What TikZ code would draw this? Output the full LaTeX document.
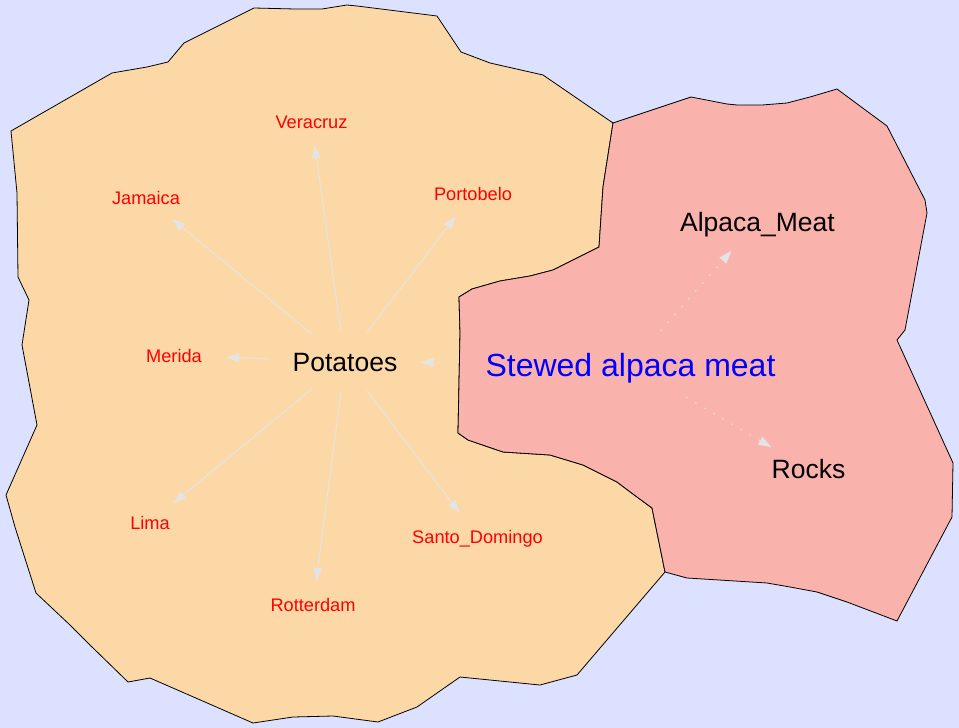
\documentclass[tikz,border=0pt]{standalone}
\usepackage{fontspec}
\setmainfont{Liberation Sans}
\usepackage{tikz}
\usetikzlibrary{shapes.geometric, arrows.meta}
\definecolor{seablue}{RGB}{219,225,254}
\definecolor{potatofill}{RGB}{253,216,167}
\definecolor{alpacafill}{RGB}{250,178,172}
\definecolor{edgegray}{RGB}{228,228,228}

\begin{document}
\begin{tikzpicture}[
  x=1pt, y=-1pt,
  region/.style={draw=black, line width=0.8pt, line join=miter},
  city/.style={ellipse, inner xsep=9pt, inner ysep=0pt, minimum height=47pt, text height=13pt, text depth=0pt, text=red, font=\fontsize{18.2}{20}\selectfont},
  item/.style={ellipse, inner xsep=1pt, inner ysep=0pt, minimum height=60pt, text height=19pt, text depth=0pt, font=\fontsize{26.5}{29}\selectfont},
  dish/.style={ellipse, inner xsep=-10pt, inner ysep=0pt, minimum height=68pt, text height=23pt, text depth=0pt, text=blue, font=\fontsize{32}{36}\selectfont},
  edge/.style={draw=edgegray, line width=1pt, -{Triangle[length=13pt, width=9pt]}},
  link/.style={edge, dash pattern=on 1.5pt off 9pt}
]
  \useasboundingbox (0,0) rectangle (959,728);
  \fill[seablue] (0,0) rectangle (959,728);

  % Potatoes cluster
  \filldraw[region, fill=potatofill] (254,8) -- (295,9) -- (322,9) -- (347,5) -- (357,6) -- (437,16)
    -- (461,52) -- (490,63) -- (543,75) -- (613,123) -- (603,187) -- (599,247) -- (553,270)
    -- (530,276) -- (500,281) -- (472,289) -- (459,297) -- (460,333) -- (458,433) -- (468,440)
    -- (503,452) -- (550,455) -- (583,465) -- (617,482) -- (637,497) -- (652,508) -- (665,572)
    -- (577,675) -- (540,685) -- (460,677) -- (417,707) -- (378,722) -- (333,716) -- (293,717)
    -- (253,723) -- (150,678) -- (128,682) -- (90,645) -- (70,625) -- (36,593) -- (15,527)
    -- (6,495) -- (37,425) -- (22,345) -- (29,300) -- (18,277) -- (17,193) -- (11,131)
    -- (112,73) -- (147,67) -- (168,62) -- (184,43) -- cycle;

  % Alpaca cluster
  \filldraw[region, fill=alpacafill] (613,123) -- (691,97) -- (727,104) -- (737,105) -- (762,105)
    -- (787,103) -- (810,97) -- (837,89) -- (887,126) -- (925,200) -- (927,213) -- (905,330)
    -- (897,340) -- (953,463) -- (952,517) -- (897,621) -- (847,602) -- (817,592) -- (790,587)
    -- (767,583) -- (687,578) -- (665,572) -- (652,508) -- (637,497) -- (617,482) -- (583,465)
    -- (550,455) -- (503,452) -- (468,440) -- (458,433) -- (460,333) -- (459,297) -- (472,289)
    -- (500,281) -- (530,276) -- (553,270) -- (599,247) -- (603,187) -- cycle;

  \node[item] (pot) at (345,361.5) {Potatoes};
  \node[city] (ver) at (311.5,121.5) {Veracruz};
  \node[city] (jam) at (146,197.5) {Jamaica};
  \node[city] (por) at (473,193.5) {Portobelo};
  \node[city] (mer) at (174,355.5) {Merida};
  \node[city] (lim) at (150,522.5) {Lima};
  \node[city] (rot) at (313,604.5) {Rotterdam};
  \node[city] (san) at (477.5,536.5) {Santo\_Domingo};

  \node[dish] (stew) at (630.5,364.5) {Stewed alpaca meat};
  \node[item] (meat) at (757.5,221.5) {Alpaca\_Meat};
  \node[item] (rock) at (808.5,469) {Rocks};

  \draw[edge] (pot) -- (ver);
  \draw[edge] (pot) -- (jam);
  \draw[edge] (pot) -- (por);
  \draw[edge] (pot) -- (mer);
  \draw[edge] (pot) -- (lim);
  \draw[edge] (pot) -- (rot);
  \draw[edge] (pot) -- (san);

  \draw[link] (stew) -- (pot);
  \draw[link] (stew) -- (meat);
  \draw[link] (stew) -- (rock);
\end{tikzpicture}
\end{document}
